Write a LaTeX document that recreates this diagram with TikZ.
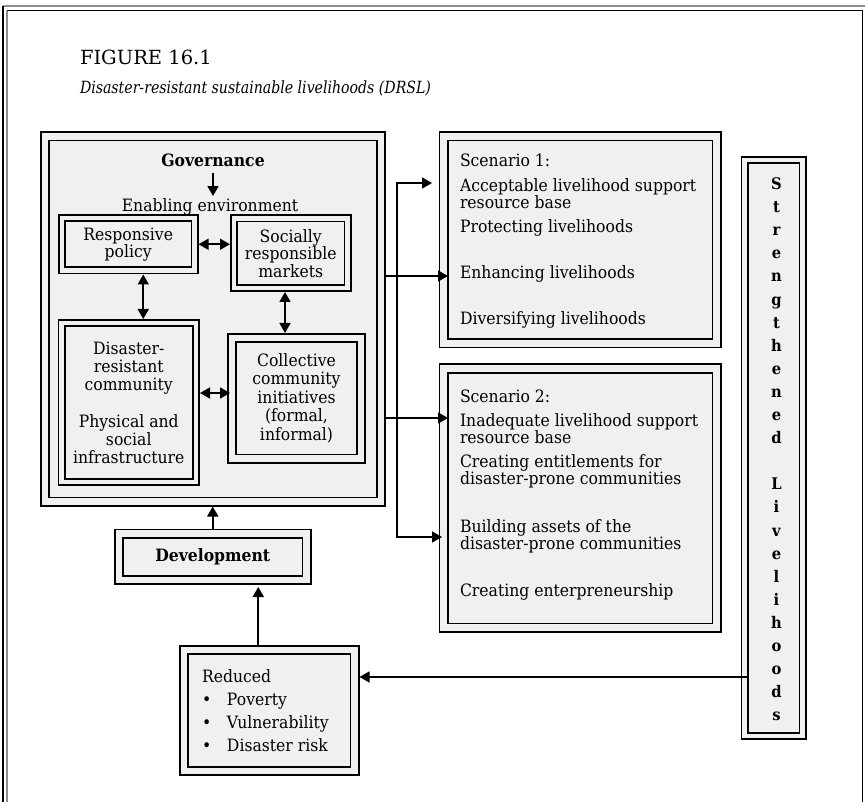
\documentclass[tikz,border=0pt]{standalone}
\usepackage{fontspec}
\setmainfont{DejaVu Serif}[FakeStretch=0.92]
\newfontfamily\titlefont{DejaVu Serif}
\newfontfamily\capfont{DejaVu Serif}[FakeStretch=0.84]
\usetikzlibrary{arrows.meta}
\definecolor{boxfill}{HTML}{F0F0F0}
\definecolor{framegrey}{HTML}{8C8C8C}
\begin{document}
\begin{tikzpicture}[x=1pt, y=-1pt,
  every node/.style={inner sep=0pt, outer sep=0pt, font=\fontsize{17}{17.5}\selectfont},
  % boxes with a double outline and a grey band between the two lines
  dbox/.style={draw=black, line width=1.6pt, double=boxfill, double distance=4.8pt,
               fill=boxfill, outer sep=4pt, align=center},
  dboxw/.style={draw=black, line width=1.6pt, double=boxfill, double distance=6.8pt,
               fill=boxfill, outer sep=5pt, align=center},
  >={Triangle[length=10pt, width=11pt]},
  ar/.style={line width=1.6pt, ->},
  dar/.style={line width=1.6pt, <->},
  para/.style={anchor=north west, align=left},
  line/.style={anchor=base west},
]
\fill[white] (0,0) rectangle (865,802);
\useasboundingbox (0,0) rectangle (865,802);

% page frame
\draw[framegrey, line width=2pt] (3,6) -- (865,6);
\draw[black, line width=1.2pt] (3,6) -- (3,802);
\draw[black, line width=1pt] (7,11) -- (862,11) -- (862,802);
\draw[framegrey, line width=2pt] (7,11) -- (7,802);

% caption
\node[anchor=base west, font=\titlefont\fontsize{19.5}{24}\selectfont] (fig) at (80,65) {FIGURE 16.1};
\node[anchor=base west, font=\capfont\fontsize{16.8}{20}\selectfont\itshape] (cap) at (80,94)
  {Disaster-resistant sustainable livelihoods (DRSL)};

% governance block
\node[dboxw, minimum width=336pt, minimum height=365pt] (gov) at (213,319) {};
\node[anchor=base, font=\fontsize{17}{17.5}\selectfont\bfseries] (govtitle) at (213,167) {Governance};
\node[anchor=base] (enabling) at (210,212) {Enabling environment};

\node[dbox, minimum width=132.5pt, minimum height=52.5pt, font=\fontsize{17}{17}\selectfont]
  (resp) at (128.25,244.25) {Responsive\\policy};
\node[dbox, minimum width=113.5pt, minimum height=69.5pt, font=\fontsize{17}{17.5}\selectfont]
  (mkt) at (290.75,253.25) {Socially\\responsible\\markets};
\node[dbox, minimum width=134.5pt, minimum height=159pt, font=\fontsize{17}{18}\selectfont]
  (drc) at (128.75,402.5) {Disaster-\\resistant\\community\\[19pt]Physical and\\social\\infrastructure};
\node[dboxw, minimum width=129pt, minimum height=120.5pt, font=\fontsize{17}{18.5}\selectfont]
  (cci) at (296.5,398.25) {Collective\\community\\initiatives\\(formal,\\informal)};

% development and outcomes
\node[dboxw, minimum width=187.5pt, minimum height=46.5pt, font=\fontsize{17}{17.5}\selectfont\bfseries]
  (dev) at (212.75,556.75) {Development};
\node[dboxw, minimum width=170.5pt, minimum height=121pt] (red) at (269.25,710.5) {};
\node[para, font=\fontsize{17}{23}\selectfont] (redtext) at (202,669.1)
  {Reduced\\\makebox[25pt][l]{\textbullet}Poverty\\\makebox[25pt][l]{\textbullet}Vulnerability\\\makebox[25pt][l]{\textbullet}Disaster risk};

% scenarios
\node[dboxw, minimum width=273pt, minimum height=207pt] (sc1) at (580,240) {};
\node[line] (s1h) at (460,167) {Scenario 1:};
\node[para] (s1a) at (460,178.1) {Acceptable livelihood support\\resource base};
\node[line] (s1b) at (460,233) {Protecting livelihoods};
\node[line] (s1c) at (460,279) {Enhancing livelihoods};
\node[line] (s1d) at (460,325) {Diversifying livelihoods};

\node[dboxw, minimum width=273pt, minimum height=259pt] (sc2) at (580,498) {};
\node[line] (s2h) at (460,402) {Scenario 2:};
\node[para] (s2a) at (460,413.1) {Inadequate livelihood support\\resource base};
\node[para] (s2b) at (460,454.1) {Creating entitlements for\\disaster-prone communities};
\node[para] (s2c) at (460,519.1) {Building assets of the\\disaster-prone communities};
\node[line] (s2d) at (460,596) {Creating enterpreneurship};

% strengthened livelihoods column
\node[dbox, minimum width=58pt, minimum height=576pt] (str) at (773.5,448) {};
\node[anchor=north, align=center, font=\fontsize{16}{23.1}\selectfont\bfseries] (strtext) at (776.5,177.7)
  {S\\t\\r\\e\\n\\g\\t\\h\\e\\n\\e\\d\\\mbox{}\\L\\i\\v\\e\\l\\i\\h\\o\\o\\d\\s};

% connectors inside the governance block
\draw[ar, shorten <=6pt, shorten >=3pt] (govtitle.south) -- (govtitle.south |- enabling.north);
\draw[dar] (resp.east) -- (resp.east -| mkt.west);
\coordinate (p1) at ([xshift=15pt]resp.south);
\draw[dar] (p1) -- (p1 |- drc.north);
\coordinate (p2) at ([xshift=-5.75pt]mkt.south);
\draw[dar] (p2) -- (p2 |- cci.north);
\coordinate (p3) at ([yshift=9.5pt]drc.east);
\draw[dar, shorten >=-3pt] (p3) -- (p3 -| cci.west);

% governance to scenarios
\coordinate (g1) at ([yshift=43pt]gov.east);
\coordinate (g2) at ([yshift=-99pt]gov.east);
\draw[ar, shorten >=-9.5pt] (g1) -- (g1 -| sc1.west);
\draw[ar, shorten >=-9.5pt] (g2) -- (g2 -| sc2.west);
\coordinate (bt) at (397,183);
\coordinate (bb) at (397,537);
\draw[dar, shorten <=6.5pt, shorten >=-3.5pt] (bt -| sc1.west) -- (bt) -- (bb) -- (bb -| sc2.west);

% development chain
\draw[ar] (dev.north) -- (dev.north |- gov.south);
\coordinate (r1) at ([xshift=-11pt]red.north);
\draw[ar, shorten >=2pt] (r1) -- (r1 |- dev.south);
\coordinate (t1) at ([xshift=7.5pt,yshift=-229pt]str.west);
\draw[ar] (t1) -- (t1 -| red.east);
\end{tikzpicture}
\end{document}
